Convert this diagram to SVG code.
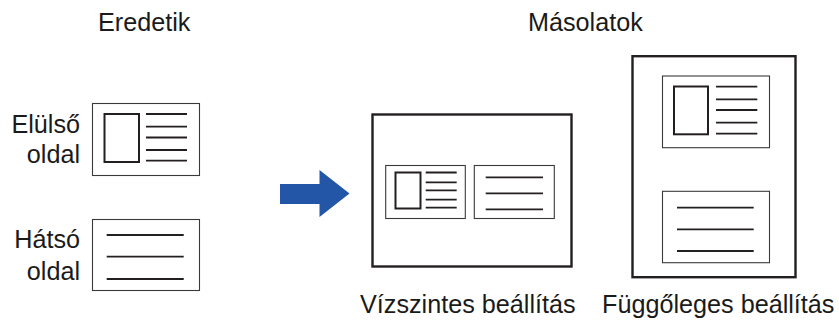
<svg xmlns="http://www.w3.org/2000/svg" width="839" height="328" viewBox="0 0 839 328">
<style>
text{font-family:"Liberation Sans",Arial,sans-serif;font-size:25.2px;fill:#1a1a1a}
.card{fill:#fff;stroke:#3a3a3a;stroke-width:1.1}
.page{fill:#fff;stroke:#231f20;stroke-width:2.4}
.pic{fill:none;stroke:#231f20;stroke-width:2}
.ln{stroke:#231f20;stroke-width:1.8}
.end{text-anchor:end}
</style>
<g id="title-originals"><text x="98" y="31">Eredetik</text></g>
<g id="title-copies"><text x="528" y="31">Másolatok</text></g>

<g id="label-front"><text class="end" x="80" y="133">Elülső</text><text class="end" x="80" y="163">oldal</text></g>
<g id="label-back"><text class="end" x="80" y="248">Hátsó</text><text class="end" x="80" y="280">oldal</text></g>

<g id="orig-front">
<rect class="card" x="92.5" y="103.5" width="107" height="72"/>
<rect class="pic" x="104.5" y="114" width="34.5" height="48"/>
<path class="ln" d="M146 114H187M146 126.7H187M146 137.5H187M146 150H187M146 160.7H187"/>
</g>
<g id="orig-back">
<rect class="card" x="92.5" y="219.5" width="107" height="71"/>
<path class="ln" d="M106.7 235H183.7M106.7 256.7H183.7M106.7 279H183.7"/>
</g>

<g id="connectors">
<polygon fill="#2356a6" points="280,184 319.5,184 319.5,170 349.5,193.5 319.5,217 319.5,204 280,204"/>
</g>

<g id="copy-horizontal">
<rect class="page" x="372.5" y="114.5" width="199" height="152"/>
<rect class="card" x="385.7" y="165.5" width="79.6" height="53"/>
<rect class="pic" x="395.5" y="172.5" width="25" height="36"/>
<path class="ln" d="M425.7 172.5H456.7M425.7 182.3H456.7M425.7 190.3H456.7M425.7 199.7H456.7M425.7 207.7H456.7"/>
<rect class="card" x="474.3" y="165.5" width="80" height="53"/>
<path class="ln" d="M485.7 177.3H543M485.7 193.3H543M485.7 209.3H543"/>
</g>
<g id="copy-vertical">
<rect class="page" x="632.5" y="56.2" width="163" height="221"/>
<rect class="card" x="662.5" y="76" width="107" height="71.7"/>
<rect class="pic" x="674" y="86.5" width="34" height="47.8"/>
<path class="ln" d="M716 86.7H757.3M716 99.3H757.3M716 110H757.3M716 122.7H757.3M716 133.7H757.3"/>
<rect class="card" x="662.5" y="191.3" width="107" height="71.4"/>
<path class="ln" d="M677 207.7H753.7M677 229.3H753.7M677 251H753.7"/>
</g>

<g id="caption-horizontal"><text x="360" y="313">Vízszintes beállítás</text></g>
<g id="caption-vertical"><text x="602" y="313">Függőleges beállítás</text></g>
</svg>
